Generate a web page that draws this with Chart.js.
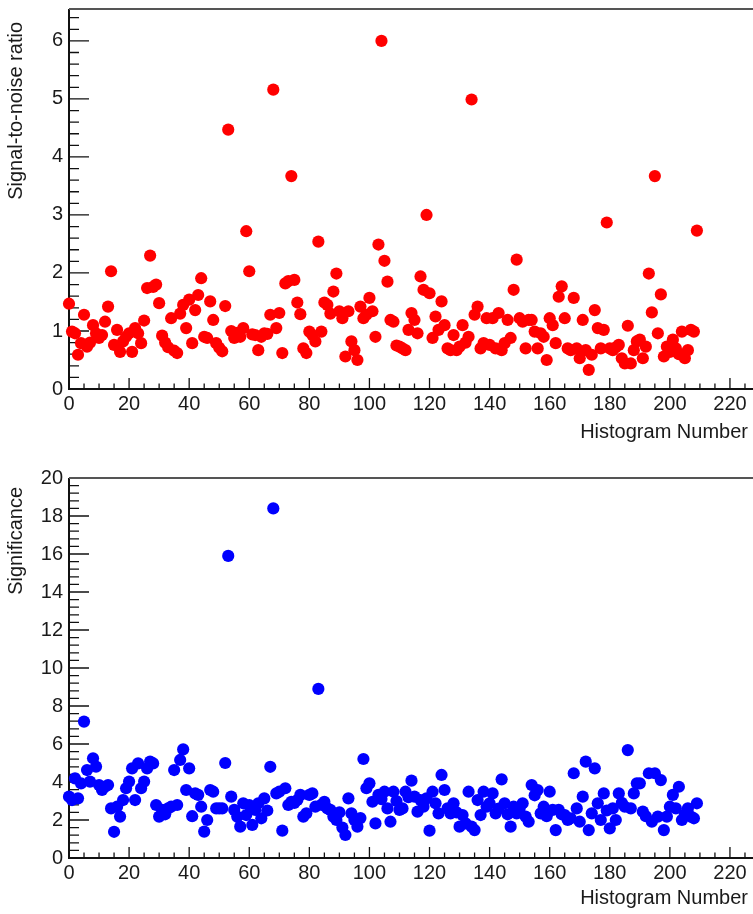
<!DOCTYPE html>
<html>
<head>
<meta charset="utf-8">
<script src="https://cdn.jsdelivr.net/npm/chart.js@4"></script>
<style>
  html, body { margin: 0; padding: 0; background: #fff; overflow: hidden; }
  body { width: 753px; height: 914px; position: relative; }
  .pad { position: absolute; left: 0; }
  #snr-pad { top: -9px; width: 770px; height: 464px; }
  #sig-pad { top: 460px; width: 770px; height: 454px; }
</style>
</head>
<body>
<div class="pad" id="snr-pad"><canvas id="snrChart"></canvas></div>
<div class="pad" id="sig-pad"><canvas id="sigChart"></canvas></div>
<script>
// signal-to-noise ratio per histogram (histogram number = array index)
const snrValues = [
  1.47, 0.99, 0.96, 0.59, 0.79, 1.28, 0.73, 0.80, 1.10, 0.96,
  0.88, 0.93, 1.16, 1.42, 2.03, 0.76, 1.02, 0.64, 0.82, 0.90,
  0.96, 0.64, 1.05, 0.96, 0.79, 1.18, 1.74, 2.30, 1.76, 1.80,
  1.48, 0.92, 0.80, 0.72, 1.22, 0.66, 0.62, 1.30, 1.45, 1.05,
  1.54, 0.79, 1.36, 1.62, 1.91, 0.90, 0.88, 1.51, 1.19, 0.79,
  0.71, 0.65, 1.43, 4.47, 1.00, 0.88, 0.97, 0.90, 1.05, 2.72,
  2.03, 0.94, 0.93, 0.67, 0.90, 0.96, 0.95, 1.28, 5.16, 1.05,
  1.31, 0.62, 1.82, 1.86, 3.67, 1.88, 1.49, 1.29, 0.70, 0.62,
  0.99, 0.93, 0.82, 2.54, 0.99, 1.49, 1.45, 1.30, 1.68, 1.99,
  1.34, 1.22, 0.56, 1.34, 0.82, 0.67, 0.50, 1.42, 1.22, 1.28,
  1.57, 1.34, 0.90, 2.49, 6.00, 2.21, 1.85, 1.19, 1.16, 0.75,
  0.73, 0.70, 0.67, 1.02, 1.31, 1.19, 0.96, 1.94, 1.71, 3.00,
  1.65, 0.88, 1.25, 1.02, 1.51, 1.10, 0.70, 0.67, 0.93, 0.67,
  0.73, 1.10, 0.80, 0.90, 4.99, 1.28, 1.42, 0.70, 0.79, 1.22,
  0.76, 1.22, 0.70, 1.31, 0.67, 0.79, 1.19, 0.88, 1.71, 2.23,
  1.22, 1.16, 0.70, 1.19, 1.19, 0.99, 0.70, 0.96, 0.90, 0.50,
  1.22, 1.10, 0.79, 1.59, 1.77, 1.22, 0.70, 0.67, 1.57, 0.70,
  0.53, 1.19, 0.67, 0.33, 0.59, 1.36, 1.05, 0.70, 1.02, 2.87,
  0.70, 0.67, 0.72, 0.76, 0.53, 0.44, 1.09, 0.44, 0.67, 0.82,
  0.85, 0.53, 0.73, 1.99, 1.32, 3.67, 0.96, 1.63, 0.56, 0.73,
  0.64, 0.85, 0.70, 0.60, 0.99, 0.53, 0.67, 1.02, 0.99, 2.73
];

// significance per histogram
const sigValues = [
  3.23, 3.05, 4.19, 3.14, 3.93, 7.18, 4.63, 4.02, 5.25, 4.81,
  3.84, 3.58, 3.75, 3.84, 2.61, 1.38, 2.70, 2.18, 3.05, 3.67,
  4.02, 4.72, 3.05, 4.98, 3.67, 4.02, 4.72, 5.07, 4.98, 2.79,
  2.18, 2.53, 2.30, 2.61, 2.70, 4.63, 2.79, 5.16, 5.72, 3.58,
  4.72, 2.20, 3.40, 3.32, 2.70, 1.39, 2.00, 3.58, 3.49, 2.61,
  2.61, 2.61, 5.00, 15.9, 3.23, 2.53, 2.18, 1.65, 2.88, 2.26,
  2.79, 1.74, 2.53, 2.88, 2.09, 3.14, 2.50, 4.80, 18.4, 3.40,
  3.49, 1.44, 3.67, 2.79, 2.96, 2.90, 3.05, 3.32, 2.18, 2.35,
  3.32, 3.40, 2.70, 8.90, 2.80, 2.96, 2.61, 2.53, 2.18, 2.00,
  2.40, 1.60, 1.21, 3.14, 2.35, 2.00, 1.65, 2.10, 5.21, 3.67,
  3.93, 2.96, 1.82, 3.32, 3.10, 3.49, 2.61, 1.91, 3.49, 3.00,
  2.53, 2.61, 3.49, 3.20, 4.07, 3.23, 2.44, 3.05, 2.70, 3.14,
  1.44, 3.49, 2.88, 2.35, 4.37, 3.58, 2.61, 2.35, 2.88, 2.40,
  1.65, 2.26, 1.82, 3.49, 1.65, 1.47, 3.05, 2.26, 3.49, 2.70,
  2.88, 3.40, 2.35, 2.60, 4.14, 2.88, 2.30, 1.65, 2.70, 2.35,
  2.60, 2.88, 2.18, 1.91, 3.84, 3.30, 3.58, 2.35, 2.70, 2.20,
  3.49, 2.53, 1.47, 2.53, 2.30, 2.26, 2.00, 2.09, 4.46, 2.61,
  1.91, 3.23, 5.07, 1.47, 2.35, 4.72, 2.88, 2.00, 3.40, 2.50,
  1.56, 2.61, 2.00, 3.40, 2.90, 2.70, 5.68, 2.61, 3.40, 3.93,
  3.93, 2.44, 2.20, 4.46, 1.91, 4.46, 2.18, 4.10, 1.47, 2.18,
  2.70, 3.32, 2.61, 3.75, 2.00, 2.30, 2.61, 2.18, 2.09, 2.88
];

const xTitle = 'Histogram Number';
const snrTitle = 'Signal-to-noise ratio';
const sigTitle = 'Significance';

const FONT = '"Liberation Sans", Arial, Helvetica, sans-serif';
const TEXT = '#1a1a1a';

function toPoints(values) {
  return values.map((v, i) => ({ x: i, y: v }));
}

// labelled ticks every `step` between the axis limits
function stepTicks(step) {
  return scale => {
    const ticks = [];
    for (let v = Math.ceil(scale.min / step) * step; v <= scale.max + 1e-9; v += step) {
      ticks.push({ value: Math.round(v * 1e6) / 1e6 });
    }
    scale.ticks = ticks;
  };
}

// ROOT style frame: inward major/minor ticks, axis titles at the far ends
const frameTicks = {
  id: 'frameTicks',
  beforeDatasetsDraw(chart, args, opts) {
    const { ctx, chartArea: a } = chart;
    const xs = chart.scales.x, ys = chart.scales.y;
    ctx.save();
    ctx.strokeStyle = '#111';
    ctx.lineWidth = 1.3;
    ctx.beginPath();
    for (let v = xs.min; v <= xs.max + 1e-9; v += opts.xMinor) {
      const px = xs.getPixelForValue(v);
      const major = Math.abs(v / opts.xMajor - Math.round(v / opts.xMajor)) < 1e-6;
      ctx.moveTo(px, a.bottom);
      ctx.lineTo(px, a.bottom - (major ? 11 : 5.5));
    }
    for (let v = ys.min; v <= ys.max + 1e-9; v += opts.yMinor) {
      const py = ys.getPixelForValue(v);
      const major = Math.abs(v / opts.yMajor - Math.round(v / opts.yMajor)) < 1e-6;
      ctx.moveTo(a.left, py);
      ctx.lineTo(a.left + (major ? 20 : 10), py);
    }
    ctx.stroke();

    // frame
    ctx.lineWidth = 2;
    ctx.strokeStyle = '#111';
    ctx.beginPath();
    ctx.moveTo(a.left, a.top);
    ctx.lineTo(a.left, a.bottom);
    ctx.lineTo(a.right, a.bottom);
    ctx.stroke();
    ctx.strokeStyle = '#555';
    ctx.beginPath();
    ctx.moveTo(a.left, a.top);
    ctx.lineTo(a.right, a.top);
    ctx.stroke();

    // axis titles
    ctx.fillStyle = TEXT;
    ctx.font = '20px ' + FONT;
    ctx.textAlign = 'right';
    ctx.textBaseline = 'alphabetic';
    ctx.fillText(xTitle, 748, a.bottom + opts.xTitleDrop);
    ctx.translate(22, a.top + opts.yTitleDrop);
    ctx.rotate(-Math.PI / 2);
    ctx.fillText(opts.yTitle, 0, 0);
    ctx.restore();
  }
};

function makeChart(canvasId, values, color, cfg) {
  return new Chart(document.getElementById(canvasId), {
    type: 'scatter',
    data: {
      datasets: [{
        data: toPoints(values),
        backgroundColor: color,
        borderColor: color,
        borderWidth: 0,
        pointRadius: 6.1,
        pointHoverRadius: 6.1,
        clip: false
      }]
    },
    options: {
      responsive: true,
      maintainAspectRatio: false,
      animation: false,
      events: [],
      layout: { padding: { top: cfg.padTop, right: 10, left: 0, bottom: 0 } },
      plugins: {
        legend: { display: false },
        tooltip: { enabled: false },
        frameTicks: cfg.frame
      },
      scales: {
        x: {
          type: 'linear',
          min: 0,
          max: 230,
          border: { display: false },
          grid: { display: false, drawTicks: false },
          ticks: {
            padding: 3, autoSkip: false, maxRotation: 0,
            color: TEXT, font: { family: FONT, size: 20 }
          },
          afterBuildTicks: stepTicks(20),
          afterFit: s => { s.height = cfg.xHeight; }
        },
        y: {
          type: 'linear',
          min: 0,
          max: cfg.yMax,
          border: { display: false },
          grid: { display: false, drawTicks: false },
          ticks: {
            padding: 6, autoSkip: false,
            color: TEXT, font: { family: FONT, size: 20 }
          },
          afterBuildTicks: stepTicks(cfg.yStep),
          afterFit: s => { s.width = 69; }
        }
      }
    },
    plugins: [frameTicks]
  });
}

makeChart('snrChart', snrValues, '#ff0000', {
  padTop: 18, xHeight: 66, yMax: 6.55, yStep: 1,
  frame: { xMajor: 20, xMinor: 5, yMajor: 1, yMinor: 0.2, yTitle: snrTitle, yTitleDrop: 13, xTitleDrop: 49 }
});

makeChart('sigChart', sigValues, '#0000ff', {
  padTop: 18, xHeight: 56, yMax: 20, yStep: 2,
  frame: { xMajor: 20, xMinor: 5, yMajor: 2, yMinor: 0.4, yTitle: sigTitle, yTitleDrop: 9, xTitleDrop: 46 }
});
</script>
</body>
</html>
